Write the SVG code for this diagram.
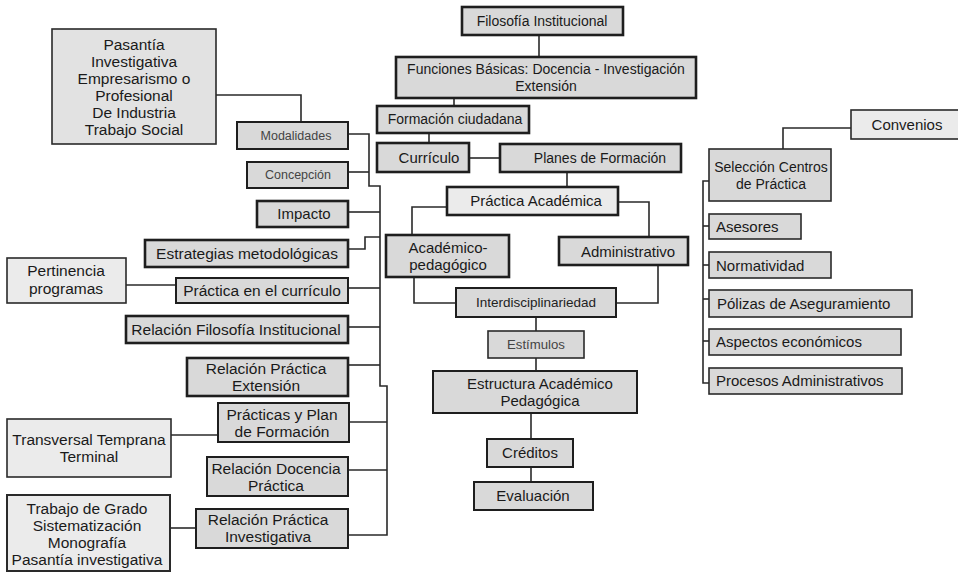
<svg xmlns="http://www.w3.org/2000/svg" width="958" height="572" viewBox="0 0 958 572">
<style>
.b{fill:#d9d9d9;stroke:#1e1e1e;stroke-width:2}
.t{fill:#d9d9d9;stroke:#1e1e1e;stroke-width:2.6}
.l{fill:#ebebeb;stroke:#2a2a2a;stroke-width:1.6}
.s{fill:#d9d9d9;stroke:#2a2a2a;stroke-width:1.6}
text{font-family:"Liberation Sans",Arial,sans-serif;font-size:15px;fill:#1a1a1a;text-anchor:middle}
.k{font-size:14px}
.w{font-size:15.5px}
.g{font-size:12.5px;fill:#444}
.e{font-size:13.2px;fill:#444}
.m{font-size:13.5px;fill:#222}
.st{text-anchor:start}
.c path,.c line{fill:none;stroke:#2a2a2a;stroke-width:1.6}
</style>
<rect width="958" height="572" fill="#fff"/>
<g class="c" id="connectors">
<line x1="539" y1="35" x2="539" y2="57"/>
<line x1="454" y1="98" x2="454" y2="106"/>
<line x1="429" y1="133" x2="429" y2="143"/>
<line x1="469" y1="158" x2="500" y2="158"/>
<line x1="567" y1="172" x2="567" y2="187"/>
<path d="M447 207 H412 V235"/>
<path d="M618 202 H649 V237"/>
<path d="M414 277 V303 H456"/>
<path d="M658 265 V303 H616"/>
<line x1="536" y1="317" x2="536" y2="331"/>
<line x1="536" y1="358" x2="536" y2="371"/>
<line x1="531" y1="413" x2="531" y2="439"/>
<line x1="531" y1="467" x2="531" y2="482"/>
<path d="M216 95 H301 V122"/>
<path d="M348 134 H369 V186 H380 V386 H387 V535 H348"/>
<line x1="348" y1="172" x2="369" y2="172"/>
<line x1="348" y1="212" x2="380" y2="212"/>
<path d="M348 249 H365 V237 H380"/>
<line x1="126" y1="285" x2="176" y2="285"/>
<line x1="348" y1="288" x2="380" y2="288"/>
<line x1="348" y1="327" x2="380" y2="327"/>
<line x1="348" y1="365" x2="380" y2="365"/>
<line x1="349" y1="422" x2="387" y2="422"/>
<line x1="171" y1="435" x2="218" y2="435"/>
<line x1="348" y1="470" x2="387" y2="470"/>
<line x1="170" y1="528" x2="196" y2="528"/>
<path d="M851 128 H783 V149"/>
<path d="M709 181 H703 V383 H709"/>
<line x1="703" y1="226" x2="709" y2="226"/>
<line x1="703" y1="265" x2="709" y2="265"/>
<line x1="703" y1="299" x2="709" y2="299"/>
<line x1="703" y1="341" x2="709" y2="341"/>
</g>
<g id="filosofia"><rect class="t" x="462" y="7" width="161" height="28"/><text class="k" x="542" y="26">Filosofía Institucional</text></g>
<g id="funciones"><rect class="t" x="396" y="57" width="300" height="41"/><text class="k" x="546" y="74">Funciones Básicas: Docencia - Investigación</text><text class="k" x="546" y="91">Extensión</text></g>
<g id="formacion"><rect class="t" x="377" y="106" width="152" height="27"/><text class="k" x="455" y="124">Formación ciudadana</text></g>
<g id="curriculo"><rect class="t" x="377" y="143" width="92" height="29"/><text x="429" y="163">Currículo</text></g>
<g id="planes"><rect class="t" x="500" y="144" width="181" height="28"/><text class="k" x="600" y="163">Planes de Formación</text></g>
<g id="practica-academica"><rect class="t" x="447" y="187" width="171" height="28" style="fill:#ebebeb"/><text x="536" y="206">Práctica Académica</text></g>
<g id="academico"><rect class="t" x="386" y="235" width="123" height="42"/><text x="448" y="253">Académico-</text><text x="448" y="270">pedagógico</text></g>
<g id="administrativo"><rect class="t" x="559" y="237" width="129" height="28"/><text x="628" y="257">Administrativo</text></g>
<g id="interdisciplinariedad"><rect class="b" x="456" y="288" width="160" height="29"/><text class="m" x="536" y="307">Interdisciplinariedad</text></g>
<g id="estimulos"><rect class="s" x="488" y="331" width="96" height="27"/><text class="e" x="536" y="349">Estímulos</text></g>
<g id="estructura"><rect class="b" x="433" y="371" width="204" height="42"/><text x="540" y="389">Estructura Académico</text><text x="540" y="406">Pedagógica</text></g>
<g id="creditos"><rect class="b" x="487" y="439" width="86" height="28"/><text x="530" y="458">Créditos</text></g>
<g id="evaluacion"><rect class="b" x="474" y="482" width="119" height="28"/><text x="533" y="501">Evaluación</text></g>
<g id="pasantia"><rect class="l" x="52" y="29" width="164" height="115" style="fill:#e2e2e2"/><text class="w" x="134" y="50">Pasantía</text><text class="w" x="134" y="67">Investigativa</text><text class="w" x="134" y="84">Empresarismo o</text><text class="w" x="134" y="101">Profesional</text><text class="w" x="134" y="118">De Industria</text><text class="w" x="134" y="135">Trabajo Social</text></g>
<g id="modalidades"><rect class="b" x="237" y="122" width="111" height="27"/><text class="g" x="296" y="140">Modalidades</text></g>
<g id="concepcion"><rect class="b" x="247" y="162" width="101" height="26"/><text class="g" x="298" y="179">Concepción</text></g>
<g id="impacto"><rect class="t" x="257" y="201" width="91" height="26"/><text x="304" y="219">Impacto</text></g>
<g id="estrategias"><rect class="t" x="145" y="240" width="203" height="27"/><text class="w" x="247" y="259">Estrategias metodológicas</text></g>
<g id="pertinencia"><rect class="l" x="7" y="258" width="119" height="45"/><text class="w" x="66" y="276">Pertinencia</text><text class="w" x="66" y="294">programas</text></g>
<g id="practica-curriculo"><rect class="b" x="176" y="278" width="172" height="25"/><text class="w" x="262" y="296">Práctica en el currículo</text></g>
<g id="relacion-filosofia"><rect class="t" x="126" y="316" width="222" height="27"/><text class="w" x="236" y="335">Relación Filosofía Institucional</text></g>
<g id="relacion-extension"><rect class="t" x="187" y="358" width="161" height="38"/><text class="w" x="266" y="374">Relación Práctica</text><text class="w" x="266" y="391">Extensión</text></g>
<g id="practicas-plan"><rect class="b" x="218" y="403" width="131" height="39"/><text class="w" x="282" y="420">Prácticas y Plan</text><text class="w" x="282" y="437">de Formación</text></g>
<g id="transversal"><rect class="l" x="7" y="419" width="164" height="58"/><text class="w" x="89" y="445">Transversal Temprana</text><text class="w" x="89" y="462">Terminal</text></g>
<g id="relacion-docencia"><rect class="b" x="207" y="457" width="141" height="39"/><text class="w" x="276" y="474">Relación Docencia</text><text class="w" x="276" y="491">Práctica</text></g>
<g id="relacion-investigativa"><rect class="b" x="196" y="509" width="152" height="39"/><text class="w" x="268" y="525">Relación Práctica</text><text class="w" x="268" y="542">Investigativa</text></g>
<g id="trabajo-grado"><rect class="l" x="7" y="495" width="163" height="76" style="stroke-width:2"/><text class="w" x="87" y="514">Trabajo de Grado</text><text class="w" x="87" y="531">Sistematización</text><text class="w" x="87" y="548">Monografía</text><text class="w" x="87" y="565">Pasantía investigativa</text></g>
<g id="convenios"><rect class="l" x="851" y="110" width="110" height="29"/><text x="907" y="130">Convenios</text></g>
<g id="seleccion"><rect class="s" x="709" y="149" width="122" height="52"/><text class="k" x="771" y="172">Selección Centros</text><text class="k" x="771" y="189">de Práctica</text></g>
<g id="asesores"><rect class="s" x="709" y="214" width="92" height="25"/><text class="st" x="716" y="232">Asesores</text></g>
<g id="normatividad"><rect class="s" x="709" y="252" width="122" height="26"/><text class="st" x="716" y="271">Normatividad</text></g>
<g id="polizas"><rect class="s" x="709" y="290" width="203" height="27"/><text class="st" x="717" y="309">Pólizas de Aseguramiento</text></g>
<g id="aspectos"><rect class="s" x="709" y="329" width="192" height="26"/><text class="st" x="716" y="347">Aspectos económicos</text></g>
<g id="procesos"><rect class="s" x="709" y="368" width="193" height="26"/><text class="st" x="716" y="386">Procesos Administrativos</text></g>
</svg>
